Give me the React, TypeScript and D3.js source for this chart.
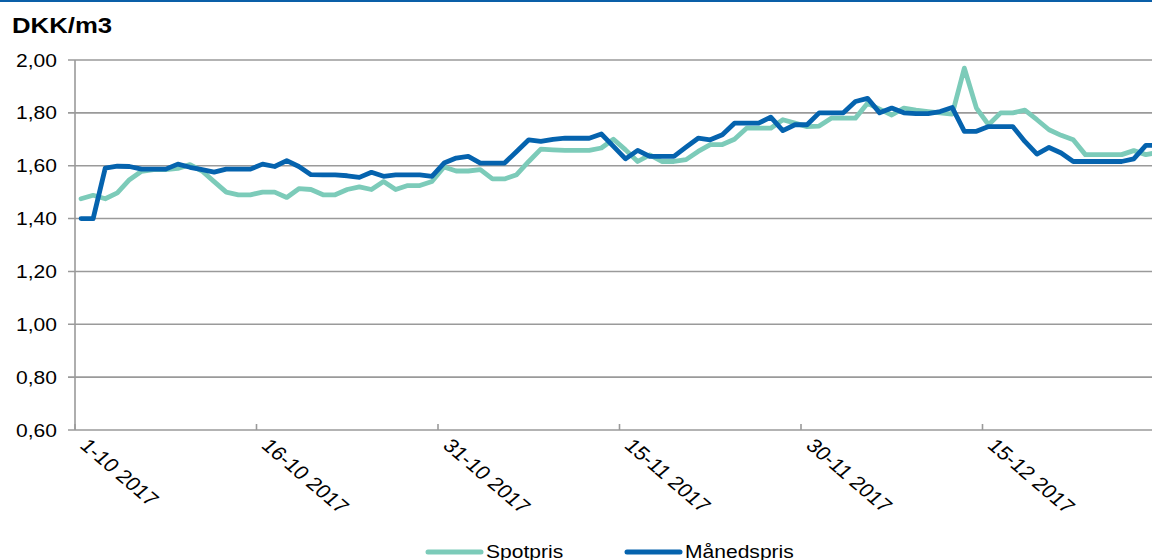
import React from "react";
import * as d3 from "d3";

const startDate = new Date(Date.UTC(2017, 9, 1));
const spotpris = [
  1.475, 1.488, 1.475, 1.497, 1.547, 1.579, 1.585, 1.585, 1.59, 1.604,
  1.58, 1.54, 1.5, 1.49, 1.49, 1.5, 1.5, 1.48, 1.513, 1.51,
  1.49, 1.49, 1.51, 1.52, 1.51, 1.54, 1.51, 1.525, 1.525, 1.54,
  1.595, 1.58, 1.58, 1.585, 1.55, 1.55, 1.566, 1.616, 1.663, 1.66,
  1.658, 1.658, 1.658, 1.667, 1.7, 1.66, 1.616, 1.641, 1.616, 1.616,
  1.623, 1.654, 1.68, 1.68, 1.7, 1.742, 1.742, 1.742, 1.774, 1.761,
  1.748, 1.75, 1.78, 1.78, 1.78, 1.836, 1.814, 1.792, 1.818, 1.81,
  1.805, 1.8, 1.795, 1.969, 1.818, 1.755, 1.8, 1.8, 1.81, 1.774,
  1.736, 1.715, 1.698, 1.642, 1.642, 1.642, 1.642, 1.657, 1.642, 1.65,
];
const maanedspris = [
  1.4, 1.4, 1.591, 1.598, 1.597, 1.587, 1.587, 1.587, 1.606, 1.594,
  1.585, 1.576, 1.587, 1.587, 1.587, 1.606, 1.597, 1.619, 1.597, 1.566,
  1.565, 1.565, 1.562, 1.556, 1.575, 1.56, 1.565, 1.565, 1.565, 1.56,
  1.61, 1.629, 1.635, 1.61, 1.61, 1.61, 1.654, 1.698, 1.692, 1.7,
  1.704, 1.704, 1.704, 1.72, 1.673, 1.626, 1.658, 1.635, 1.635, 1.635,
  1.67, 1.704, 1.698, 1.717, 1.761, 1.761, 1.761, 1.784, 1.733, 1.755,
  1.755, 1.8, 1.8, 1.8, 1.843, 1.855, 1.8, 1.818, 1.8, 1.797,
  1.797, 1.805, 1.82, 1.73, 1.73, 1.748, 1.748, 1.748, 1.692, 1.644,
  1.669, 1.648, 1.616, 1.616, 1.616, 1.616, 1.616, 1.626, 1.677, 1.677,
];
const yTicks = [0.6, 0.8, 1.0, 1.2, 1.4, 1.6, 1.8, 2.0];
const seriesNames = ["Spotpris", "Månedspris"];
const seriesColors = ["#7ccbb9", "#0563ae"];

const W = 1152;
const H = 560;
const FONT = "'Liberation Sans', Arial, sans-serif";
const SX = 1.17;

export default function App() {
  const dates = spotpris.map((_, i) => d3.utcDay.offset(startDate, i));
  const endDate = d3.utcDay.offset(startDate, 92);
  const x = d3.scaleUtc().domain([startDate, endDate]).range([75, 75 + 92 * 12.1]);
  const y = d3.scaleLinear().domain([0.6, 2.0]).range([430, 60]);
  const mid = (d: Date) => x(d3.utcHour.offset(d, 12));
  const fmtY = (v: number) => d3.format(".2f")(v).replace(".", ",");
  const fmtX = d3.utcFormat("%-d-%m %Y");
  const xTicks = d3.range(0, 6).map((k) => d3.utcDay.offset(startDate, k * 15));

  const line = d3
    .line<number>()
    .x((_, i) => mid(dates[i]))
    .y((v) => y(v));

  const series = [spotpris, maanedspris];

  return (
    <svg
      width={W}
      height={H}
      style={{ position: "absolute", left: 0, top: 0, background: "#fff" }}
      fontFamily={FONT}
    >
      <rect x={0} y={0} width={W} height={2} fill="#0a5fa8" />
      <text
        transform={`translate(12,33) scale(${SX},1)`}
        fontSize={22}
        fontWeight="bold"
        fill="#000"
      >
        DKK/m3
      </text>

      {yTicks.map((t) => (
        <g key={t}>
          <line x1={68} x2={W} y1={y(t)} y2={y(t)} stroke="#9a9a9a" strokeWidth={1.6} />
          <text
            transform={`translate(57,${y(t) + 6.5}) scale(${SX},1)`}
            textAnchor="end"
            fontSize={18}
            fill="#000"
          >
            {fmtY(t)}
          </text>
        </g>
      ))}
      <line x1={75} x2={75} y1={60} y2={430} stroke="#9a9a9a" strokeWidth={1.6} />

      {xTicks.map((d) => (
        <g key={d.toISOString()}>
          <line x1={x(d)} x2={x(d)} y1={424} y2={430} stroke="#9a9a9a" strokeWidth={1.6} />
          <text
            transform={`translate(${x(d) + 15},437) scale(${SX},1) rotate(45)`}
            fontSize={19}
            dy="0.72em"
            fill="#000"
          >
            {fmtX(d)}
          </text>
        </g>
      ))}

      {series.map((s, k) => (
        <path
          key={k}
          d={line(s) || ""}
          fill="none"
          stroke={seriesColors[k]}
          strokeWidth={4.8}
          strokeLinejoin="round"
          strokeLinecap="round"
        />
      ))}

      {seriesNames.map((name, k) => {
        const lx = [428, 627][k];
        return (
          <g key={name}>
            <line
              x1={lx}
              x2={lx + 53}
              y1={552}
              y2={552}
              stroke={seriesColors[k]}
              strokeWidth={5}
              strokeLinecap="round"
            />
            <text
              transform={`translate(${lx + 58},558) scale(${SX},1)`}
              fontSize={18}
              fill="#000"
            >
              {name}
            </text>
          </g>
        );
      })}
    </svg>
  );
}
